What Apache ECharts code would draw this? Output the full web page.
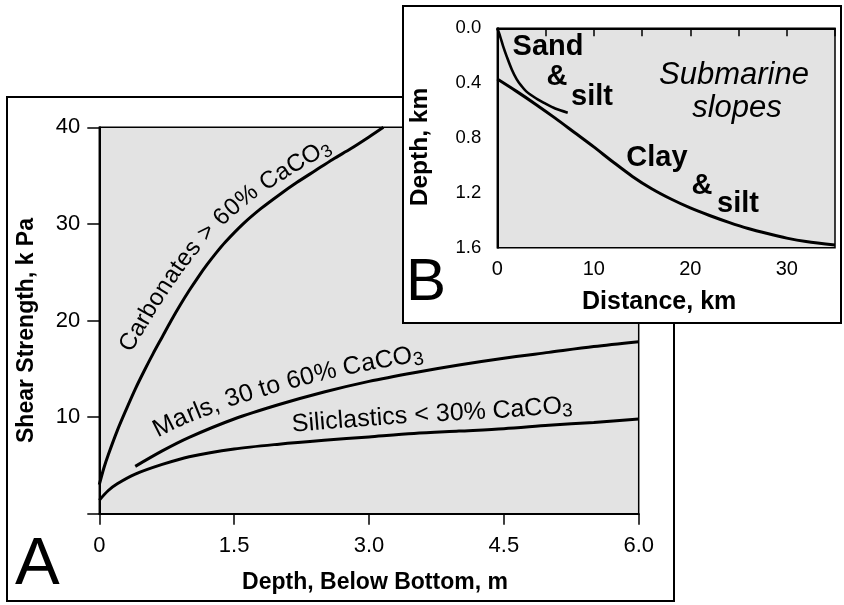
<!DOCTYPE html>
<html><head><meta charset="utf-8">
<script src="https://cdn.jsdelivr.net/npm/echarts@6/dist/echarts.min.js"></script>
<style>html,body{margin:0;padding:0;background:#fff}#c{width:844px;height:605px}</style>
</head><body><div id="c"></div>
<script>
const FAM = '"Liberation Sans", Arial, Helvetica, sans-serif';

// ---------- Panel A data: Shear strength (kPa) vs depth below bottom (m)
const carbonatesX = [0, 0.05, 0.1, 0.2, 0.3, 0.4, 0.5, 0.6, 0.7, 0.8, 0.9, 1.0, 1.1, 1.2, 1.3, 1.4, 1.6, 1.8, 2.0, 2.2, 2.4, 2.6, 2.8, 3.0, 3.16];
const carbonatesY = [3.0, 4.7, 6.1, 8.6, 10.8, 12.9, 14.8, 16.6, 18.3, 20.0, 21.6, 23.1, 24.5, 25.8, 27.0, 28.1, 30.0, 31.6, 33.0, 34.3, 35.5, 36.7, 37.8, 39.0, 40.0];
const marlsX = [0.4, 0.7, 1.0, 1.5, 2.0, 2.5, 3.0, 3.5, 4.0, 4.5, 5.0, 5.5, 6.0];
const marlsY = [4.9, 6.5, 7.9, 9.8, 11.3, 12.6, 13.7, 14.6, 15.4, 16.1, 16.7, 17.3, 17.8];
const siliclasticsX = [0, 0.1, 0.2, 0.4, 0.7, 1.0, 1.5, 2.0, 2.5, 3.0, 3.5, 4.0, 4.5, 5.0, 5.5, 6.0];
const siliclasticsY = [1.4, 2.4, 3.1, 4.1, 5.1, 5.9, 6.7, 7.2, 7.6, 7.95, 8.3, 8.55, 8.8, 9.15, 9.45, 9.8];
const xTickLabelsA = ['0', '1.5', '3.0', '4.5', '6.0'];
const yTickLabelsA = ['', '10', '20', '30', '40'];

// ---------- Panel B data: depth (km) vs distance (km)
const sandSiltX = [0, 0.3, 0.6, 1.0, 1.5, 2.0, 2.5, 3.0, 4.0, 5.0, 6.0, 7.3];
const sandSiltY = [0, 0.06, 0.13, 0.21, 0.30, 0.37, 0.42, 0.46, 0.51, 0.55, 0.585, 0.615];
const claySiltX = [0, 2, 4, 6, 8, 10, 12, 14, 16, 18, 20, 22, 24, 26, 28, 30, 32, 35];
const claySiltY = [0.37, 0.46, 0.555, 0.655, 0.76, 0.865, 0.975, 1.08, 1.17, 1.245, 1.31, 1.365, 1.415, 1.46, 1.497, 1.53, 1.555, 1.58];
const xTickLabelsB = ['0', '', '10', '', '20', '', '30', ''];
const yTickLabelsB = ['0.0', '0.4', '0.8', '1.2', '1.6'];

const pairs = (xs, ys) => xs.map((x, i) => [x, ys[i]]);
const chart = echarts.init(document.getElementById('c'), null, {renderer: 'canvas'});

const lab = (size, extra) => Object.assign({color: '#000', fontSize: size, fontFamily: FAM}, extra || {});
const lineSeries = (name, xs, ys, gi, width, zl) => ({
  type: 'line', name, xAxisIndex: gi, yAxisIndex: gi, data: pairs(xs, ys),
  showSymbol: false, smooth: 0.3, zlevel: zl, z: 5,
  lineStyle: {color: '#000', width: width}, animation: false, silent: true
});

chart.setOption({
  animation: false,
  grid: [
    {left: 99.3, top: 127.3, width: 539.4, height: 386.4, show: true, backgroundColor: '#e3e3e3', borderColor: '#000', borderWidth: 1.5, zlevel: 0},
    {left: 497.3, top: 28.3, width: 337.7, height: 219.4, show: true, backgroundColor: '#e3e3e3', borderColor: '#000', borderWidth: 1.5, zlevel: 2}
  ],
  xAxis: [
    {gridIndex: 0, type: 'value', min: 0, max: 6, interval: 1.5, zlevel: 0,
     axisLine: {lineStyle: {color: '#000', width: 2}},
     axisTick: {show: true, length: 11, lineStyle: {color: '#000', width: 1.5}},
     axisLabel: lab(22, {margin: 21, formatter: v => xTickLabelsA[Math.round(v / 1.5)]}),
     splitLine: {show: false},
     name: 'Depth, Below Bottom, m', nameLocation: 'middle', nameGap: 57,
     nameTextStyle: lab(23, {fontWeight: 'bold', padding: [0, 0, 0, 12]})},
    {gridIndex: 1, type: 'value', min: 0, max: 35, interval: 5, zlevel: 2,
     axisLine: {lineStyle: {color: '#000', width: 2}},
     axisTick: {show: true, length: 8, lineStyle: {color: '#000', width: 1.5}},
     axisLabel: lab(20, {margin: 12, formatter: v => xTickLabelsB[Math.round(v / 5)]}),
     splitLine: {show: false},
     name: 'Distance, km', nameLocation: 'middle', nameGap: 42,
     nameTextStyle: lab(25, {fontWeight: 'bold', padding: [0, 14, 0, 0]})}
  ],
  yAxis: [
    {gridIndex: 0, type: 'value', min: 0, max: 40, interval: 10, zlevel: 0,
     axisLine: {lineStyle: {color: '#000', width: 2}},
     axisTick: {show: true, length: 12, lineStyle: {color: '#000', width: 1.5}},
     axisLabel: lab(22, {margin: 19, formatter: v => yTickLabelsA[Math.round(v / 10)]}),
     splitLine: {show: false},
     name: 'Shear Strength, k Pa', nameLocation: 'middle', nameGap: 61, nameRotate: 90,
     nameTextStyle: lab(23, {fontWeight: 'bold', padding: [0, 20, 0, 0]})},
    {gridIndex: 1, type: 'value', min: 0, max: 1.6, interval: 0.4, inverse: true, zlevel: 2,
     axisLine: {lineStyle: {color: '#000', width: 2}},
     axisTick: {show: false},
     axisLabel: lab(18.5, {margin: 16, formatter: v => yTickLabelsB[Math.round(v / 0.4)]}),
     splitLine: {show: false},
     name: 'Depth, km', nameLocation: 'middle', nameGap: 65, nameRotate: 90,
     nameTextStyle: lab(24.5, {fontWeight: 'bold', padding: [0, 18, 0, 0]})}
  ],
  series: [
    lineSeries('Carbonates > 60% CaCO3', carbonatesX, carbonatesY, 0, 3, 0),
    lineSeries('Marls, 30 to 60% CaCO3', marlsX, marlsY, 0, 3, 0),
    lineSeries('Siliclastics < 30% CaCO3', siliclasticsX, siliclasticsY, 0, 3, 0),
    lineSeries('Sand & silt', sandSiltX, sandSiltY, 1, 2.6, 2),
    lineSeries('Clay & silt', claySiltX, claySiltY, 1, 3, 2)
  ]
});

// ---------- text following a curve (panel A labels)
const mctx = document.createElement('canvas').getContext('2d');
function curveLabel(xs, ys, startX, pieces, d0, d1) {
  const pts = xs.map((x, i) => chart.convertToPixel({gridIndex: 0}, [x, ys[i]]));
  const cum = [0];
  for (let i = 1; i < pts.length; i++) cum.push(cum[i - 1] + Math.hypot(pts[i][0] - pts[i - 1][0], pts[i][1] - pts[i - 1][1]));
  const L = cum[cum.length - 1];
  const at = s => {
    let i = 1;
    while (i < cum.length - 1 && cum[i] < s) i++;
    const t = (s - cum[i - 1]) / ((cum[i] - cum[i - 1]) || 1);
    return [pts[i - 1][0] + t * (pts[i][0] - pts[i - 1][0]), pts[i - 1][1] + t * (pts[i][1] - pts[i - 1][1])];
  };
  let k = 1;
  while (k < xs.length - 1 && xs[k] < startX) k++;
  const tt = (startX - xs[k - 1]) / (xs[k] - xs[k - 1]);
  let s = cum[k - 1] + tt * (cum[k] - cum[k - 1]);
  const chars = [];
  pieces.forEach(p => {
    const font = p.size + 'px ' + FAM;
    mctx.font = font;
    for (const ch of p.t) chars.push({ch, font, w: mctx.measureText(ch).width, dy: p.dy || 0});
  });
  const W = chars.reduce((a, c) => a + c.w, 0);
  const s0 = s, out = [];
  chars.forEach(c => {
    const mid = s + c.w / 2;
    const a = at(Math.max(0, mid - 10)), b = at(Math.min(L, mid + 10)), p = at(mid);
    let tx = b[0] - a[0], ty = b[1] - a[1];
    const n = Math.hypot(tx, ty) || 1; tx /= n; ty /= n;
    const d = d0 + (d1 - d0) * ((s - s0) / W) - c.dy;
    out.push({type: 'text', zlevel: 0, z: 10, silent: true,
      x: p[0] + ty * d, y: p[1] - tx * d, rotation: Math.atan2(-ty, tx),
      style: {text: c.ch, font: c.font, fill: '#000', align: 'center', verticalAlign: 'middle', textAlign: 'center', textVerticalAlign: 'middle'}});
    s += c.w;
  });
  return out;
}

const txt = (text, x, y, font, zl, align) => ({type: 'text', zlevel: zl, z: 20, silent: true, x, y,
  style: {text, font, fill: '#000', align: align || 'center', verticalAlign: 'middle', textAlign: align || 'center', textVerticalAlign: 'middle'}});

const graphics = [
  {type: 'rect', zlevel: 0, z: 0, silent: true, shape: {x: 7, y: 97, width: 667, height: 504}, style: {fill: 'none', stroke: '#000', lineWidth: 2}},
  {type: 'rect', zlevel: 1, z: 0, silent: true, shape: {x: 403, y: 6, width: 438, height: 317}, style: {fill: '#fff', stroke: '#000', lineWidth: 2}},
  txt('A', 15, 566, '67px ' + FAM, 0, 'left'),
  txt('B', 406, 283, '60px ' + FAM, 2, 'left'),
  txt('Sand', 548, 47, 'bold 29px ' + FAM, 2),
  txt('&', 557, 77, 'bold 29px ' + FAM, 2),
  txt('silt', 592, 97, 'bold 29px ' + FAM, 2),
  txt('Clay', 657, 158, 'bold 29px ' + FAM, 2),
  txt('&', 702, 186, 'bold 29px ' + FAM, 2),
  txt('silt', 738, 204, 'bold 29px ' + FAM, 2),
  txt('Submarine', 734, 75, 'italic 31px ' + FAM, 2),
  txt('slopes', 737, 108, 'italic 31px ' + FAM, 2)
]
.concat(curveLabel(carbonatesX, carbonatesY, 0.55, [{t: 'Carbonates > 60% CaCO', size: 24}, {t: '3', size: 18, dy: 5}], 26, 14))
.concat(curveLabel(marlsX, marlsY, 0.72, [{t: 'Marls, 30 to 60% CaCO', size: 25}, {t: '3', size: 19, dy: 5}], 21, 17))
.concat(curveLabel(siliclasticsX, siliclasticsY, 2.16, [{t: 'Siliclastics < 30% CaCO', size: 25}, {t: '3', size: 19, dy: 5}], 18, 18));

chart.setOption({graphic: graphics});
</script>
</body></html>
